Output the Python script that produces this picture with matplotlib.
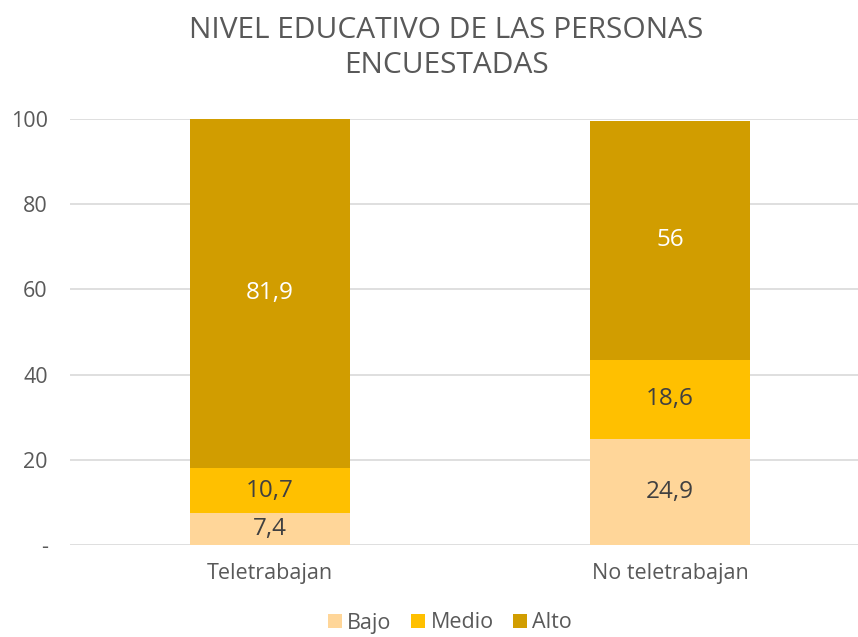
import matplotlib.pyplot as plt
import numpy as np

plt.rcParams['font.family'] = ['Open Sans', 'DejaVu Sans']

grupos = ['Teletrabajan', 'No teletrabajan']
bajo = [7.4, 24.9]
medio = [10.7, 18.6]
alto = [81.9, 56]
etiquetas_y = ['-', '20', '40', '60', '80', '100']

colores = ['#FFD699', '#FFC000', '#D19D00']
gris = '#595959'

fig = plt.figure(figsize=(8.58, 6.37), dpi=100)
ax = fig.add_axes([70/858, 92/637, 800/858, 426/637])

x = np.arange(len(grupos))
ancho = 0.4
abajo = np.zeros(len(grupos))
for serie, nombre, col, txt in zip([bajo, medio, alto], ['Bajo', 'Medio', 'Alto'],
                                   colores, ['#404040', '#404040', 'white']):
    barras = ax.bar(x, serie, ancho, bottom=abajo, color=col, label=nombre, zorder=3)
    for b, v in zip(barras, serie):
        etiqueta = str(v).replace('.', ',')
        if etiqueta.endswith(',0'):
            etiqueta = etiqueta[:-2]
        ax.text(b.get_x() + b.get_width()/2, b.get_y() + b.get_height()/2, etiqueta,
                ha='center', va='center', fontsize=17.5, color=txt, zorder=4)
    abajo += np.array(serie)

ax.set_xlim(-0.5, 1.5)
ax.set_ylim(0, 100)
ax.set_yticks(np.arange(0, 101, 20))
ax.set_yticklabels(etiquetas_y)
ax.set_xticks(x)
ax.set_xticklabels(grupos)
ax.tick_params(axis='both', length=0, labelsize=15.5, colors=gris)
ax.tick_params(axis='y', pad=16)
ax.tick_params(axis='x', pad=13)
ax.grid(axis='y', color='#D9D9D9', linewidth=1.2, zorder=0)
for s in ax.spines.values():
    s.set_visible(False)

fig.text(446/858, 1 - 48/637, 'NIVEL EDUCATIVO DE LAS PERSONAS\nENCUESTADAS', ha='center',
         va='center', fontsize=21.5, color=gris, linespacing=1.25)

fig.legend(loc='center', bbox_to_anchor=(450/858, 1 - 623/637), ncol=3, frameon=False,
           fontsize=15.5, labelcolor=gris, handlelength=0.65, handleheight=0.65,
           handletextpad=0.25, columnspacing=0.9, borderpad=0.2)

fig.savefig('out.png', dpi=100)
